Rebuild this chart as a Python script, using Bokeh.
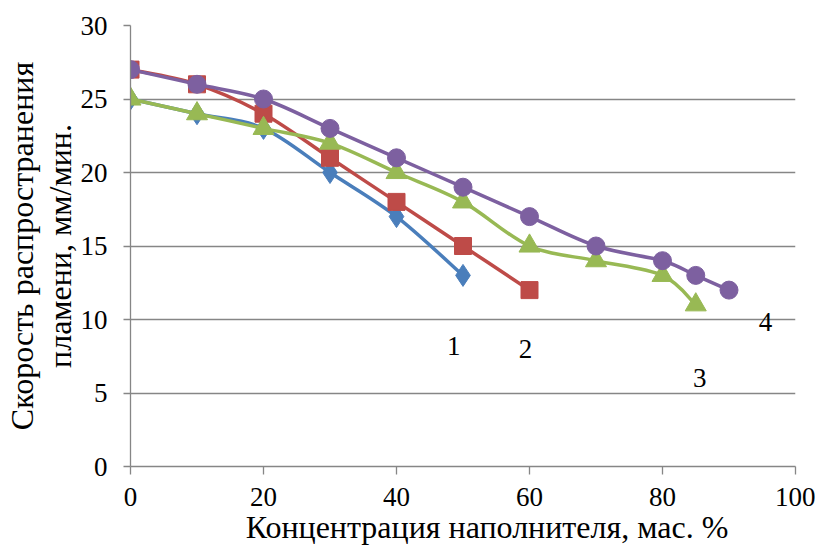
import numpy as np
from bokeh.plotting import figure
from bokeh.models import Label, FixedTicker, Range1d
from bokeh.embed import file_html
from bokeh.resources import INLINE

# ---- data ----
x1 = [0, 10, 20, 30, 40, 50]
y1 = [25, 24, 23, 20, 17, 13]
x2 = [0, 10, 20, 30, 40, 50, 60]
y2 = [27, 26, 24, 21, 18, 15, 12]
x3 = [0, 10, 20, 30, 40, 50, 60, 70, 80, 85]
y3 = [25, 24, 23, 22, 20, 18, 15, 14, 13, 11]
x4 = [0, 10, 20, 30, 40, 50, 60, 70, 80, 85, 90]
y4 = [27, 26, 25, 23, 21, 19, 17, 15, 14, 13, 12]
series_names = ["1", "2", "3", "4"]
x_ticks = [0, 20, 40, 60, 80, 100]
y_ticks = [0, 5, 10, 15, 20, 25, 30]
x_title = "Концентрация наполнителя, мас. %"
y_title = "Скорость распространения\nпламени, мм/мин."

FONT = "Liberation Serif"
FS = "27px"
FS_TITLE = "32px"
GRID = "#868686"

p = figure(width=815, height=549, output_backend="svg", toolbar_location=None,
           x_range=Range1d(0, 100), y_range=Range1d(0, 30),
           min_border_left=128, min_border_right=20, min_border_top=25, min_border_bottom=83)
p.outline_line_color = None
p.background_fill_color = "white"
p.border_fill_color = "white"

p.xgrid.grid_line_color = None
p.ygrid.grid_line_color = GRID
p.ygrid.grid_line_width = 1.3
p.ygrid.ticker = FixedTicker(ticks=y_ticks)

for ax in (p.xaxis[0], p.yaxis[0]):
    ax.axis_line_color = GRID
    ax.axis_line_width = 1.3
    ax.major_tick_line_color = GRID
    ax.major_tick_line_width = 1.3
    ax.minor_tick_line_color = None
    ax.major_tick_in = 0
    ax.major_label_text_font = FONT
    ax.major_label_text_font_size = FS
    ax.major_label_text_color = "black"
    ax.axis_label_text_font = FONT
    ax.axis_label_text_font_size = FS_TITLE
    ax.axis_label_text_font_style = "normal"
    ax.axis_label_text_color = "black"
p.xaxis.ticker = FixedTicker(ticks=x_ticks)
p.yaxis.ticker = FixedTicker(ticks=y_ticks)
p.xaxis.major_tick_out = 8
p.yaxis.major_tick_out = 7
p.xaxis.major_label_standoff = 13
p.yaxis.major_label_standoff = 16

# axis titles (leading no-break spaces shift the x title right as in the original)
p.xaxis.axis_label = "\u00a0" * 6 + x_title
p.xaxis.axis_label_standoff = 0
p.yaxis.axis_label = y_title
p.yaxis.axis_label_standoff = 0
p.yaxis.axis_label_text_line_height = 1.05


def smooth_bezier(xs, ys):
    xs = np.asarray(xs, float)
    ys = np.asarray(ys, float)
    n = len(xs)
    x0, y0, x1_, y1_, cx0, cy0, cx1, cy1 = ([] for _ in range(8))
    for i in range(n - 1):
        pm = i - 1 if i > 0 else i
        pp = i + 2 if i + 2 < n else i + 1
        x0.append(xs[i]); y0.append(ys[i])
        x1_.append(xs[i + 1]); y1_.append(ys[i + 1])
        cx0.append(xs[i] + (xs[i + 1] - xs[pm]) / 6)
        cy0.append(ys[i] + (ys[i + 1] - ys[pm]) / 6)
        cx1.append(xs[i + 1] - (xs[pp] - xs[i]) / 6)
        cy1.append(ys[i + 1] - (ys[pp] - ys[i]) / 6)
    return dict(x0=x0, y0=y0, x1=x1_, y1=y1_, cx0=cx0, cy0=cy0, cx1=cx1, cy1=cy1)


series = [
    (x1, y1, "#4A7EBB", "diamond", 22),
    (x2, y2, "#BE4B48", "square", 17),
    (x3, y3, "#98B954", "triangle", 21),
    (x4, y4, "#7D60A0", "circle", 18),
]
for xs, ys, col, mk, sz in series:
    p.bezier(line_color=col, line_width=3.5, **smooth_bezier(xs, ys))
    p.scatter(xs, ys, marker=mk, size=sz, fill_color=col, line_color=col)

# series number labels
num_pos = [(48.6, 8.2), (59.4, 8.0), (85.6, 6.05), (95.5, 9.8)]
for name, (lx, ly) in zip(series_names, num_pos):
    p.add_layout(Label(x=lx, y=ly, text=name, text_font=FONT, text_font_size=FS,
                       text_align="center", text_baseline="alphabetic", text_color="black"))

open("out.html", "w").write(file_html(p, INLINE))
